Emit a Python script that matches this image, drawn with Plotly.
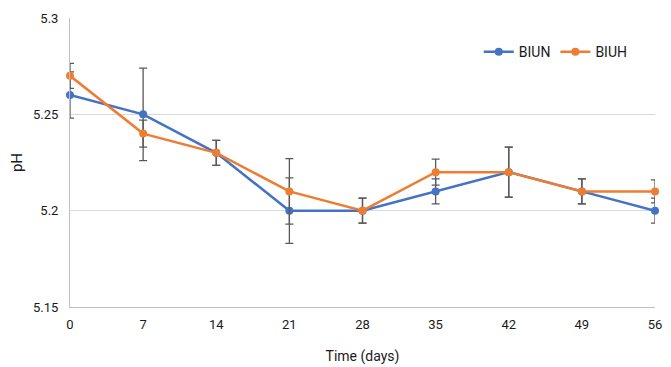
import plotly.graph_objects as go

days = [0, 7, 14, 21, 28, 35, 42, 49, 56]
biun = [5.26, 5.25, 5.23, 5.20, 5.20, 5.21, 5.22, 5.21, 5.20]
biun_err = [0.012, 0.024, 0.0065, 0.017, 0.0065, 0.0065, 0.013, 0.0065, 0.0065]
biuh = [5.27, 5.24, 5.23, 5.21, 5.20, 5.22, 5.22, 5.21, 5.21]
biuh_err = [0.0065, 0.007, 0.0065, 0.017, 0.0065, 0.0067, 0.013, 0.0065, 0.006]
y_ticks = [5.15, 5.2, 5.25, 5.3]
y_tick_text = ["5.15", "5.2", "5.25", "5.3"]

FONT = "Roboto, sans-serif"
ERR_COLOR = "#595959"

fig = go.Figure()
fig.add_trace(go.Scatter(
    x=days, y=biun, name="BIUN", mode="lines+markers",
    line=dict(color="#4472C4", width=2.5),
    marker=dict(size=8, color="#4472C4"),
    error_y=dict(type="data", array=biun_err, visible=True, color=ERR_COLOR, thickness=1.3, width=4),
    cliponaxis=False,
))
fig.add_trace(go.Scatter(
    x=days, y=biuh, name="BIUH", mode="lines+markers",
    line=dict(color="#ED7D31", width=2.5),
    marker=dict(size=8, color="#ED7D31"),
    error_y=dict(type="data", array=biuh_err, visible=True, color=ERR_COLOR, thickness=1.3, width=4),
    cliponaxis=False,
))

fig.update_layout(
    width=663, height=359,
    margin=dict(l=62, r=16, t=10, b=60),
    paper_bgcolor="white", plot_bgcolor="white",
    font=dict(family=FONT, size=13, color="#1a1a1a"),
    legend=dict(orientation="h", x=0.962, xanchor="right", y=0.882, yanchor="middle",
                font=dict(family=FONT, size=14, color="#1a1a1a"), bgcolor="rgba(0,0,0,0)"),
    xaxis=dict(
        range=[0, 56], tickvals=days, ticktext=[str(d) for d in days],
        showgrid=False, showline=True, linecolor="#bfbfbf", linewidth=1,
        ticks="", zeroline=False, automargin=False, ticklabelstandoff=5,
        title=dict(text="Time (days)", font=dict(family=FONT, size=14), standoff=20),
    ),
    yaxis=dict(
        range=[5.15, 5.3], tickvals=y_ticks, ticktext=y_tick_text,
        showgrid=True, gridcolor="#d9d9d9", gridwidth=1,
        showline=True, linecolor="#bfbfbf", linewidth=1,
        ticks="", zeroline=False, ticklabelstandoff=8, automargin=False,
        title=dict(text="pH", font=dict(family=FONT, size=15), standoff=20),
    ),
)

fig.write_html("out.html")
